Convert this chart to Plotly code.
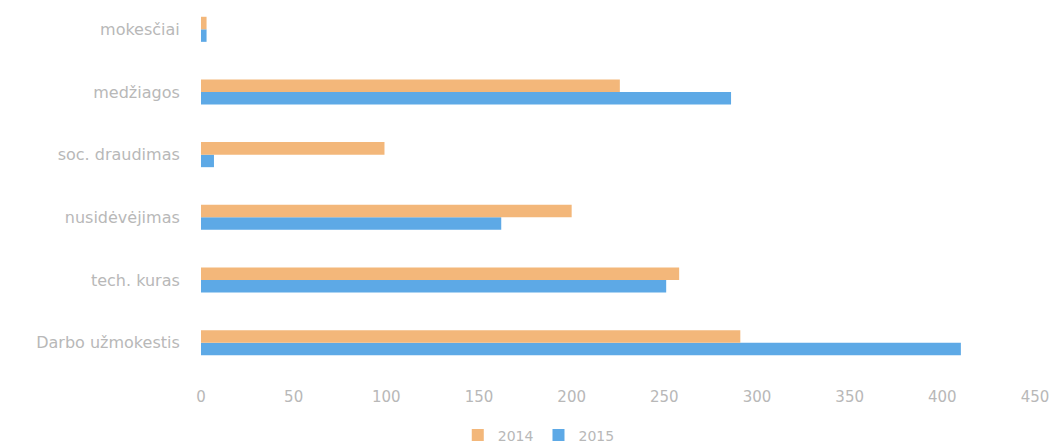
import plotly.graph_objects as go

categories = ["Darbo užmokestis", "tech. kuras", "nusidėvėjimas", "soc. draudimas", "medžiagos", "mokesčiai"]
series_a_name = "2014"
series_b_name = "2015"
values_a = [291, 258, 200, 99, 226, 3]
values_b = [410, 251, 162, 7, 286, 3]
x_ticks = [0, 50, 100, 150, 200, 250, 300, 350, 400, 450]

fig = go.Figure()
fig.add_trace(go.Bar(y=categories, x=values_b, name=series_b_name, orientation="h",
                     marker=dict(color="#5DA9E6", line=dict(width=0))))
fig.add_trace(go.Bar(y=categories, x=values_a, name=series_a_name, orientation="h",
                     marker=dict(color="#F3B77A", line=dict(width=0))))

fig.update_layout(
    width=1050, height=438,
    paper_bgcolor="white", plot_bgcolor="white",
    margin=dict(l=193, r=23, t=0, b=72, autoexpand=False),
    barmode="group", bargap=0.6, bargroupgap=0.0,
    font=dict(family="DejaVu Sans", size=15, color="#b8b8b8"),
    legend=dict(orientation="h", x=0.405, y=-0.168, xanchor="center", yanchor="middle",
                traceorder="reversed", font=dict(size=14, color="#b8b8b8")),
    showlegend=True,
)
fig.update_xaxes(range=[0, 450], tickvals=x_ticks, showgrid=False, zeroline=False,
                 showline=False, ticks="outside", ticklen=9, tickcolor="rgba(0,0,0,0)",
                 tickfont=dict(size=15, color="#b8b8b8"))
fig.update_yaxes(range=[-0.5, 5.34], showgrid=False, zeroline=False, showline=False, ticks="outside",
                 ticklen=17, tickcolor="rgba(0,0,0,0)",
                 tickfont=dict(size=16, color="#b8b8b8"))

fig.write_html("out.html")
